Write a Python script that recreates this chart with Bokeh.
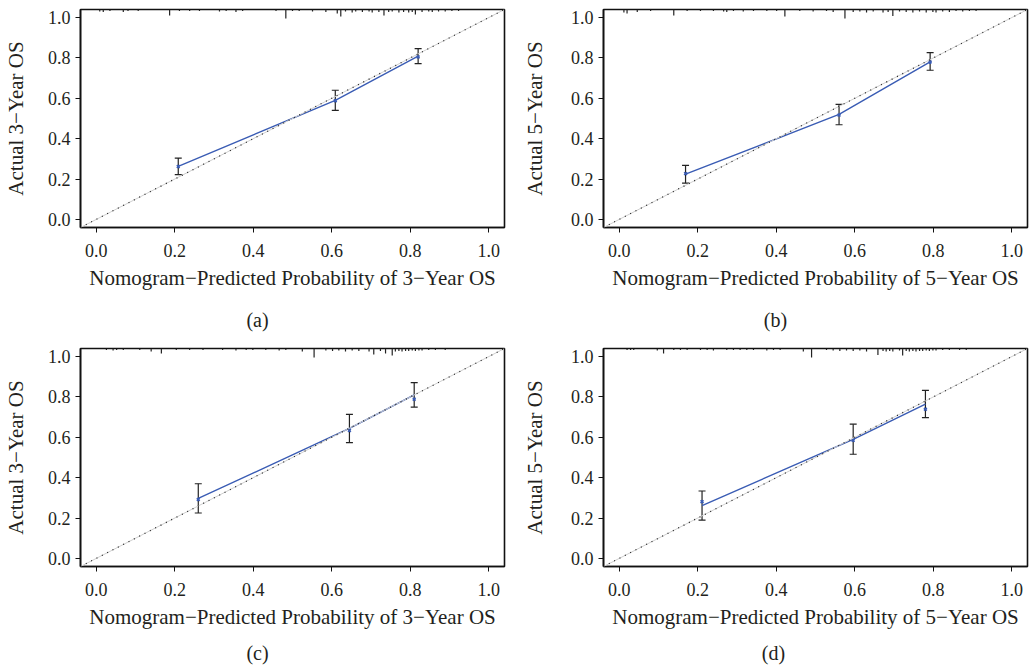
from bokeh.plotting import figure
from bokeh.models import Range1d, FixedTicker, PrintfTickFormatter, Slope, Div, Whisker, TeeHead, ColumnDataSource
from bokeh.layouts import column, row
from bokeh.embed import file_html
from bokeh.resources import INLINE

# ---------------- data ----------------
ticks = [0.0, 0.2, 0.4, 0.6, 0.8, 1.0]

a_pred = [0.209, 0.609, 0.820]
a_obs = [0.263, 0.590, 0.809]
a_lower = [0.222, 0.540, 0.772]
a_upper = [0.304, 0.640, 0.846]
a_corr = [0.262, 0.588, 0.805]
a_rug_x = [0.009, 0.018, 0.035, 0.069, 0.081, 0.107, 0.187, 0.212, 0.238, 0.263, 0.314, 0.331, 0.356,
           0.373, 0.458, 0.483, 0.500, 0.517, 0.551, 0.585, 0.614, 0.623, 0.635, 0.652, 0.661, 0.678,
           0.695, 0.703, 0.720, 0.733, 0.745, 0.754, 0.771, 0.783, 0.796, 0.805, 0.813, 0.830, 0.847,
           0.856, 0.872, 0.889, 0.906, 0.923]
a_rug_h = [0.010, 0.012, 0.008, 0.012, 0.008, 0.008, 0.030, 0.008, 0.008, 0.008, 0.010, 0.008, 0.012,
           0.008, 0.008, 0.045, 0.008, 0.008, 0.010, 0.012, 0.020, 0.035, 0.010, 0.015, 0.010, 0.012,
           0.010, 0.015, 0.012, 0.030, 0.012, 0.010, 0.015, 0.012, 0.015, 0.012, 0.025, 0.012, 0.010,
           0.012, 0.010, 0.010, 0.008, 0.008]

b_pred = [0.169, 0.560, 0.792]
b_obs = [0.224, 0.520, 0.780]
b_lower = [0.180, 0.469, 0.739]
b_upper = [0.268, 0.570, 0.826]
b_corr = [0.227, 0.517, 0.780]
b_rug_x = [0.012, 0.020, 0.046, 0.080, 0.139, 0.173, 0.207, 0.240, 0.266, 0.274, 0.291, 0.316, 0.342,
           0.376, 0.401, 0.422, 0.460, 0.494, 0.528, 0.545, 0.575, 0.596, 0.613, 0.630, 0.647, 0.672,
           0.685, 0.697, 0.714, 0.731, 0.748, 0.765, 0.782, 0.799, 0.807, 0.824, 0.841, 0.858, 0.875,
           0.892, 0.909]
b_rug_h = [0.015, 0.020, 0.012, 0.008, 0.030, 0.008, 0.008, 0.008, 0.010, 0.012, 0.008, 0.010, 0.008,
           0.008, 0.008, 0.035, 0.008, 0.010, 0.008, 0.012, 0.045, 0.012, 0.010, 0.015, 0.010, 0.015,
           0.012, 0.032, 0.010, 0.012, 0.015, 0.010, 0.015, 0.012, 0.015, 0.010, 0.012, 0.008, 0.010,
           0.008, 0.008]

c_pred = [0.260, 0.645, 0.810]
c_obs = [0.297, 0.644, 0.810]
c_lower = [0.225, 0.574, 0.750]
c_upper = [0.370, 0.714, 0.871]
c_corr = [0.292, 0.634, 0.789]
c_rug_x = [0.026, 0.043, 0.052, 0.069, 0.111, 0.140, 0.166, 0.204, 0.238, 0.272, 0.322, 0.356, 0.382,
           0.399, 0.432, 0.466, 0.483, 0.525, 0.555, 0.585, 0.602, 0.618, 0.635, 0.652, 0.669, 0.695,
           0.707, 0.724, 0.737, 0.754, 0.762, 0.771, 0.779, 0.788, 0.796, 0.805, 0.813, 0.822, 0.830,
           0.847, 0.864, 0.889]
c_rug_h = [0.008, 0.010, 0.008, 0.008, 0.008, 0.015, 0.025, 0.008, 0.008, 0.008, 0.008, 0.010, 0.008,
           0.008, 0.008, 0.010, 0.008, 0.015, 0.045, 0.010, 0.012, 0.010, 0.015, 0.010, 0.012, 0.015,
           0.030, 0.012, 0.025, 0.035, 0.015, 0.012, 0.015, 0.012, 0.012, 0.010, 0.012, 0.010, 0.010,
           0.008, 0.008, 0.008]

d_pred = [0.211, 0.596, 0.780]
d_obs = [0.262, 0.590, 0.765]
d_lower = [0.190, 0.516, 0.698]
d_upper = [0.334, 0.665, 0.833]
d_corr = [0.281, 0.585, 0.739]
d_rug_x = [0.020, 0.029, 0.037, 0.097, 0.113, 0.139, 0.156, 0.173, 0.207, 0.224, 0.240, 0.274, 0.291,
           0.308, 0.325, 0.342, 0.376, 0.393, 0.410, 0.469, 0.490, 0.528, 0.545, 0.562, 0.579, 0.596,
           0.613, 0.630, 0.659, 0.672, 0.680, 0.689, 0.697, 0.714, 0.722, 0.731, 0.739, 0.748, 0.756,
           0.765, 0.773, 0.782, 0.790, 0.799, 0.807, 0.824, 0.841, 0.867, 0.884]
d_rug_h = [0.008, 0.008, 0.008, 0.010, 0.025, 0.008, 0.008, 0.008, 0.008, 0.008, 0.010, 0.008, 0.008,
           0.008, 0.008, 0.008, 0.010, 0.008, 0.008, 0.015, 0.045, 0.008, 0.010, 0.012, 0.010, 0.012,
           0.010, 0.015, 0.032, 0.012, 0.015, 0.012, 0.015, 0.010, 0.035, 0.012, 0.015, 0.012, 0.015,
           0.012, 0.012, 0.010, 0.012, 0.010, 0.010, 0.008, 0.008, 0.008, 0.008]

labels = {
    "a": ("Actual 3\u2212Year OS", "Nomogram\u2212Predicted Probability of 3\u2212Year OS", "(a)"),
    "b": ("Actual 5\u2212Year OS", "Nomogram\u2212Predicted Probability of 5\u2212Year OS", "(b)"),
    "c": ("Actual 3\u2212Year OS", "Nomogram\u2212Predicted Probability of 3\u2212Year OS", "(c)"),
    "d": ("Actual 5\u2212Year OS", "Nomogram\u2212Predicted Probability of 5\u2212Year OS", "(d)"),
}

# ---------------- styling ----------------
FONT = "Liberation Serif"
TXT = "#231f20"
BLUE = "#3a5cb4"
LO, HI = -0.04, 1.04


def make_panel(key, pred, obs, lower, upper, corr, rug_x, rug_h,
               width, height, bl, br, bt, bb, ylab_standoff):
    ylab, xlab, cap = labels[key]
    p = figure(width=width, height=height, output_backend="svg", toolbar_location=None,
               x_range=Range1d(LO, HI), y_range=Range1d(LO, HI),
               min_border_left=bl, min_border_right=br, min_border_top=bt, min_border_bottom=bb)
    p.grid.visible = False
    p.background_fill_color = "white"
    p.border_fill_color = "white"
    p.outline_line_color = "#111111"
    p.outline_line_width = 1.6

    for ax in (p.xaxis[0], p.yaxis[0]):
        ax.ticker = FixedTicker(ticks=ticks)
        ax.formatter = PrintfTickFormatter(format="%.1f")
        ax.minor_tick_line_color = None
        ax.major_tick_in = 0
        ax.major_tick_out = 5
        ax.major_tick_line_color = "#111111"
        ax.major_tick_line_width = 1
        ax.axis_line_color = "#111111"
        ax.axis_line_width = 1.6
        ax.major_label_text_font = FONT
        ax.major_label_text_font_size = "18px"
        ax.major_label_text_color = TXT
        ax.axis_label_text_font = FONT
        ax.axis_label_text_font_size = "21px"
        ax.axis_label_text_font_style = "normal"
        ax.axis_label_text_color = TXT
    p.xaxis.axis_label = xlab
    p.yaxis.axis_label = ylab
    p.xaxis.major_label_standoff = 11
    p.xaxis.axis_label_standoff = 6
    p.yaxis.major_label_standoff = 5
    p.yaxis.axis_label_standoff = ylab_standoff

    # ideal line
    p.add_layout(Slope(gradient=1, y_intercept=0, line_color="#cfcfcf", line_width=1))
    p.add_layout(Slope(gradient=1, y_intercept=0, line_color="#222222", line_width=1.2,
                       line_dash="1 5"))

    # rug of predicted probabilities at the top
    rug_y1 = [HI - h for h in rug_h]
    p.segment(x0=rug_x, y0=[HI] * len(rug_x), x1=rug_x, y1=rug_y1,
              line_color="#222222", line_width=1.2)

    # calibration line
    p.line(pred, obs, line_color=BLUE, line_width=1.4)

    # error bars
    src = ColumnDataSource(dict(x=pred, lo=lower, hi=upper))
    p.add_layout(Whisker(source=src, base="x", lower="lo", upper="hi",
                         line_color="#222222", line_width=1.2,
                         upper_head=TeeHead(size=7, line_color="#222222", line_width=1.2),
                         lower_head=TeeHead(size=7, line_color="#222222", line_width=1.2)))

    # bias corrected estimates
    p.scatter(pred, corr, marker="x", size=4, line_color=BLUE, line_width=1.6)
    return p


def caption(key, width, pad_left=0, pad_top=10):
    return Div(text=labels[key][2], width=width, height=35, margin=0,
               styles={"text-align": "center", "font-family": FONT, "font-size": "20px",
                       "line-height": "20px", "padding-top": f"{pad_top}px", "color": TXT,
                       "padding-left": f"{pad_left}px", "box-sizing": "border-box"})


pa = make_panel("a", a_pred, a_obs, a_lower, a_upper, a_corr, a_rug_x, a_rug_h,
                515, 300, 79, 11, 9, 73, 17)
pb = make_panel("b", b_pred, b_obs, b_lower, b_upper, b_corr, b_rug_x, b_rug_h,
                515, 300, 88, 3, 9, 73, 21)
pc = make_panel("c", c_pred, c_obs, c_lower, c_upper, c_corr, c_rug_x, c_rug_h,
                515, 300, 79, 11, 13, 69, 17)
pd_ = make_panel("d", d_pred, d_obs, d_lower, d_upper, d_corr, d_rug_x, d_rug_h,
                 515, 300, 88, 3, 13, 69, 21)

layout = column(row(pa, pb), row(caption("a", 515), caption("b", 515, 6)),
                row(pc, pd_), row(caption("c", 515, 0, 8), caption("d", 515, 2, 8)))
open("out.html", "w").write(file_html(layout, INLINE))
